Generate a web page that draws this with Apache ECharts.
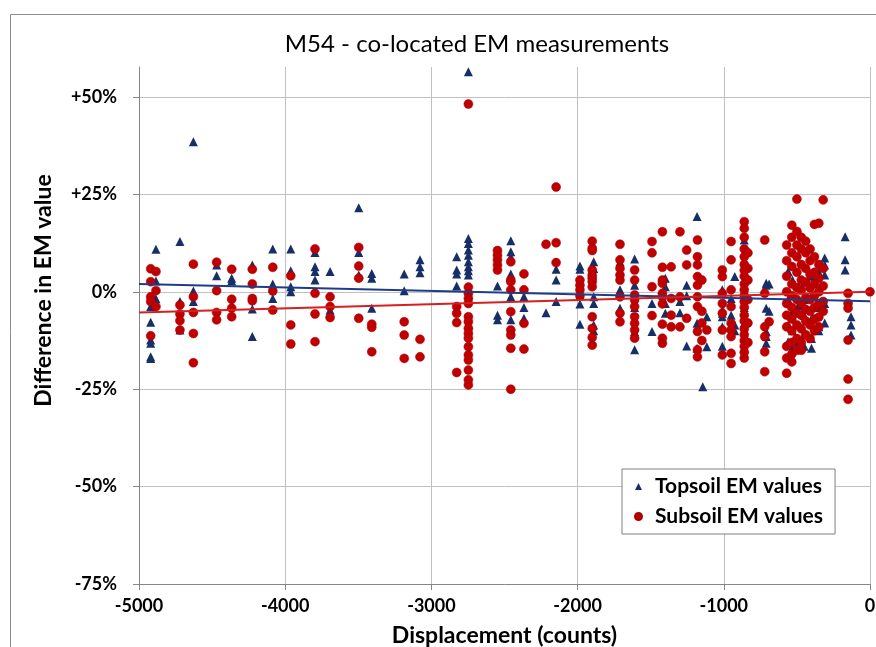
<!DOCTYPE html>
<html><head><meta charset="utf-8">
<script src="https://cdn.jsdelivr.net/npm/echarts@6/dist/echarts.min.js"></script>
<style>html,body{margin:0;padding:0;background:#fff}#c{width:876px;height:647px}</style>
</head><body><div id="c"></div>
<script>
const chartTitle = 'M54 - co-located EM measurements';
const xAxisTitle = 'Displacement (counts)';
const yAxisTitle = 'Difference in EM value';
const seriesNames = ['Topsoil EM values', 'Subsoil EM values'];
const yTicks = [-75, -50, -25, 0, 25, 50];

// [displacement, [difference % ...]]
const topsoilColumns = [
  [-4920, [-3.8,-7.8,-12.4,-13.2,-16.7,-17.1]],
  [-4884, [10.9,2.8,-1.8]],
  [-4720, [12.9,-2.5,-9.8]],
  [-4628, [38.5,0.2,-2.5]],
  [-4469, [6.9,4.1]],
  [-4366, [3.5,2.8,-3.4]],
  [-4225, [6.9,-4.4,-11.5]],
  [-4085, [11.0,2.0,-1.7]],
  [-3962, [11.0,5.4,1.3,0.0]],
  [-3796, [10.1,6.4,5.2,3.0]],
  [-3693, [5.2,-4.7]],
  [-3497, [21.6,10.1,4.3]],
  [-3408, [4.7,3.5,-4.2]],
  [-3186, [4.6,0.3]],
  [-3078, [8.2,6.4,4.9]],
  [-2827, [9.0,5.6,4.6,1.5]],
  [-2747, [56.5,13.7,12.4,10.7,9.4,7.7,6.4,5.4,4.3]],
  [-2548, [1.5,-6.0,-7.2]],
  [-2457, [13.1,10.3,9.0,4.6,-1.3,-7.2]],
  [-2367, [-1.3,-4.0,-6.8]],
  [-2216, [-5.4]],
  [-2147, [5.8,3.0,-2.5]],
  [-1984, [6.6,5.8,-0.8,-3.1,-8.3]],
  [-1890, [7.7,6.0,-1.3,-3.0,-8.5,-10.0]],
  [-1710, [7.7,0.5,-0.8,-4.2]],
  [-1610, [8.4,1.7,-4.0,-10.2,-14.9]],
  [-1491, [-3.0,-10.2]],
  [-1400, [3.5,1.3,-3.0,-5.5]],
  [-1300, [-2.5,-5.4]],
  [-1254, [1.7,-1.0,-13.9]],
  [-1183, [19.3,-8.1,-14.5]],
  [-1144, [-24.4]],
  [-1116, [-6.4,-14.1]],
  [-1010, [0.5,-4.7,-5.5,-6.4,-9.0,-14.0]],
  [-950, [-1.7,-6.0,-9.0]],
  [-925, [3.9,-8.5,-10.0]],
  [-860, [13.3,-4.0,-8.0,-12.0,-14.5]],
  [-710, [2.2,1.7,-4.2,-10.2,-11.5,-13.2]],
  [-690, [2.0,-5.0]],
  [-560, [5.2,-2.0,-8.5,-12.8]],
  [-530, [3.0,-5.0,-10.0,-14.5]],
  [-490, [1.5,-3.5,-12.8,-13.5]],
  [-450, [2.5,-2.0,-6.0,-11.0,-14.0]],
  [-400, [4.0,-1.0,-7.0,-12.0,-14.5]],
  [-350, [5.0,0.5,-4.0,-9.0,-10.0]],
  [-310, [8.7,6.9,4.3,-3.0,-8.0]],
  [-170, [14.1,8.2,5.6]],
  [-130, [-6.4,-8.5,-11.1]]
];

const subsoilColumns = [
  [-4920, [5.9,2.6,-1.3,-2.5,-11.3]],
  [-4884, [5.2,0.3,-3.8]],
  [-4720, [-3.4,-5.7,-7.4,-9.8]],
  [-4628, [7.1,-1.3,-5.3,-10.7,-18.2]],
  [-4469, [7.6,0.3,-5.3,-7.2]],
  [-4366, [5.8,-1.9,-4.2,-6.4]],
  [-4225, [5.8,2.0,-1.7,-2.3]],
  [-4085, [6.3,0.2,-4.7]],
  [-3962, [4.1,-8.5,-13.4]],
  [-3796, [11.0,-0.4,-5.7,-12.8]],
  [-3693, [-1.3,-3.8,-6.6]],
  [-3497, [11.4,6.6,3.5,-6.8]],
  [-3408, [-8.3,-9.1,-15.4]],
  [-3186, [-7.7,-11.1,-17.1]],
  [-3078, [-12.2,-16.7]],
  [-2827, [-3.8,-5.5,-7.9,-20.7]],
  [-2747, [48.2,1.2,-0.4,-1.7,-3.0,-6.4,-7.7,-9.4,-10.7,-11.9,-14.1,-16.2,-17.5,-20.1,-22.6,-23.9]],
  [-2548, [10.6,9.4,8.2,6.9,5.6]],
  [-2457, [7.7,3.0,2.6,0.5,-5.1,-9.8,-11.1,-14.5,-25.0]],
  [-2367, [4.6,0.5,-8.1,-14.7]],
  [-2216, [12.2]],
  [-2147, [26.9,12.6,7.5]],
  [-1984, [3.0,1.7,0.5,-1.0]],
  [-1900, [13.0,11.2,10.6,5.6,4.3,3.5,2.6,1.3,-6.4,-9.4,-11.7,-13.7]],
  [-1710, [12.2,8.2,6.0,4.3,3.0,-1.3,-5.5,-7.7]],
  [-1610, [5.6,3.0,-0.8,-2.1,-3.8,-6.4,-8.1,-9.8,-11.9]],
  [-1491, [12.9,10.0,1.3,-6.1]],
  [-1420, [15.4,6.3,3.0,2.2,-0.4,-1.3,-3.1,-8.3,-11.9,-13.2]],
  [-1360, [6.4,-1.7,-6.0,-9.0]],
  [-1300, [15.4,-1.3,-9.0]],
  [-1254, [10.7,6.9,-6.8]],
  [-1180, [13.3,9.0,6.9,3.9,1.7,-1.3,-3.8,-10.2,-14.9,-16.7]],
  [-1150, [3.0,-5.0,-8.0,-12.5]],
  [-1116, [-9.8]],
  [-1010, [5.6,3.9,-0.4,-3.0,-5.5,-9.8,-16.2]],
  [-950, [12.9,8.2,0.5,-3.8,-8.1,-9.8,-11.5,-15.8,-18.4]],
  [-860, [18.0,16.3,14.0,11.0,9.0,7.0,5.5,4.0,2.0,0.5,-1.0,-2.5,-4.0,-6.0,-7.5,-9.5,-11.0,-12.5,-14.0,-15.5,-17.0]],
  [-835, [10.0,6.0,3.0,-2.0,-8.0,-13.0]],
  [-720, [13.3,-0.4,-9.0,-11.5,-15.4,-20.5]],
  [-690, [-7.7]],
  [-570, [12.0,8.0,4.0,0.0,-3.0,-6.0,-9.0,-14.0,-17.0,-20.9]],
  [-535, [17.1,14.0,10.0,6.5,2.0,-1.0,-4.0,-7.0,-10.0,-13.0,-16.0,-18.0]],
  [-500, [23.8,15.5,12.0,9.0,5.0,1.0,-2.0,-5.5,-8.5,-12.0,-15.0]],
  [-470, [14.0,11.0,7.0,3.0,0.5,-3.0,-6.0,-9.5,-13.0,-15.0]],
  [-440, [13.0,10.0,6.0,2.5,-1.5,-4.5,-7.5,-11.0]],
  [-410, [11.0,8.0,4.5,1.0,-2.0,-5.0,-8.5,-12.0]],
  [-380, [17.3,9.0,5.0,2.0,-1.0,-4.0,-7.0,-10.0]],
  [-350, [17.6,7.0,3.5,0.0,-3.0,-6.5,-9.0]],
  [-320, [23.6,6.0,1.5,-2.5,-5.0]],
  [-150, [-0.4,-3.0,-4.2,-12.4,-22.4,-27.6]],
  [0, [0.0]]
];

// linear trend lines (end points)
const topsoilTrend = [[-5000, 2.0], [0, -2.4]];
const subsoilTrend = [[-5000, -5.3], [0, 0.0]];

function flatten(cols) {
  const out = [];
  cols.forEach(([x, ys]) => ys.forEach(y => out.push([x, y])));
  return out;
}

const FONT = 'Lato, "Open Sans", sans-serif';
const NAVY = '#172F68';
const RED = '#C00000';
const chart = echarts.init(document.getElementById('c'), null, {renderer: 'canvas'});
chart.setOption({
  animation: false,
  backgroundColor: '#fff',
  graphic: [{
    type: 'rect', left: 8, top: 12, shape: {width: 900, height: 700},
    style: {fill: 'none', stroke: '#8c8c8c', lineWidth: 1}, z: -1, silent: true
  }],
  title: {
    text: chartTitle, left: 472, top: 27, textAlign: 'center',
    textStyle: {fontFamily: FONT, fontSize: 24, fontWeight: 'normal', color: '#000'}
  },
  legend: {
    left: 622, top: 469, orient: 'vertical', itemGap: 9,
    padding: [7, 12, 7, 12],
    borderColor: '#808080', borderWidth: 1, backgroundColor: '#fff',
    itemWidth: 7, itemHeight: 7,
    textStyle: {fontFamily: FONT, fontSize: 21, fontWeight: 'bold', color: '#000', padding: [0, 0, 0, 8]},
    data: [
      {name: seriesNames[0], icon: 'triangle', itemStyle: {opacity: 1}},
      {name: seriesNames[1], icon: 'circle', itemStyle: {opacity: 1}}
    ]
  },
  grid: {left: 139, right: 6, top: 67, bottom: 63, containLabel: false, outerBoundsMode: 'none'},
  xAxis: {
    type: 'value', min: -5000, max: 0, interval: 1000,
    name: xAxisTitle, nameLocation: 'middle', nameGap: 40,
    nameTextStyle: {fontFamily: FONT, fontSize: 23, fontWeight: 'bold', color: '#000'},
    axisLine: {show: true, onZero: false, lineStyle: {color: '#868686'}},
    axisTick: {show: true, length: 6, lineStyle: {color: '#868686'}},
    axisLabel: {fontFamily: FONT, fontSize: 18, fontWeight: 'bold', color: '#000', margin: 13,
      formatter: v => String(v)},
    splitLine: {show: true, lineStyle: {color: '#c0c0c0'}}
  },
  yAxis: {
    type: 'value', min: -75, max: 57.7,
    name: yAxisTitle, nameLocation: 'middle', nameGap: 84, nameRotate: 90,
    nameTextStyle: {fontFamily: FONT, fontSize: 23, fontWeight: 'bold', color: '#000', padding: [0, 0, 0, 70]},
    axisLine: {show: true, onZero: false, lineStyle: {color: '#868686'}},
    axisTick: {show: true, length: 6, lineStyle: {color: '#868686'}, customValues: yTicks},
    axisLabel: {
      fontFamily: FONT, fontSize: 18, fontWeight: 'bold', color: '#000', margin: 22,
      customValues: yTicks,
      formatter: v => (v > 0 ? '+' : '') + v + '%'
    },
    splitLine: {show: true, lineStyle: {color: '#c0c0c0'}}
  },
  series: [
    {
      name: seriesNames[0], type: 'scatter', symbol: 'triangle', symbolSize: 9,
      itemStyle: {color: NAVY, opacity: 1}, data: flatten(topsoilColumns), z: 2
    },
    {
      name: seriesNames[1], type: 'scatter', symbol: 'circle', symbolSize: 9,
      itemStyle: {color: RED, opacity: 1, borderColor: '#a80000', borderWidth: 0.5}, data: flatten(subsoilColumns), z: 3
    },
    {
      type: 'line', data: topsoilTrend, symbol: 'none', silent: true, z: 4,
      lineStyle: {color: '#1F3C88', width: 2}
    },
    {
      type: 'line', data: subsoilTrend, symbol: 'none', silent: true, z: 4,
      lineStyle: {color: '#D42020', width: 2}
    }
  ]
});
</script>
</body></html>
